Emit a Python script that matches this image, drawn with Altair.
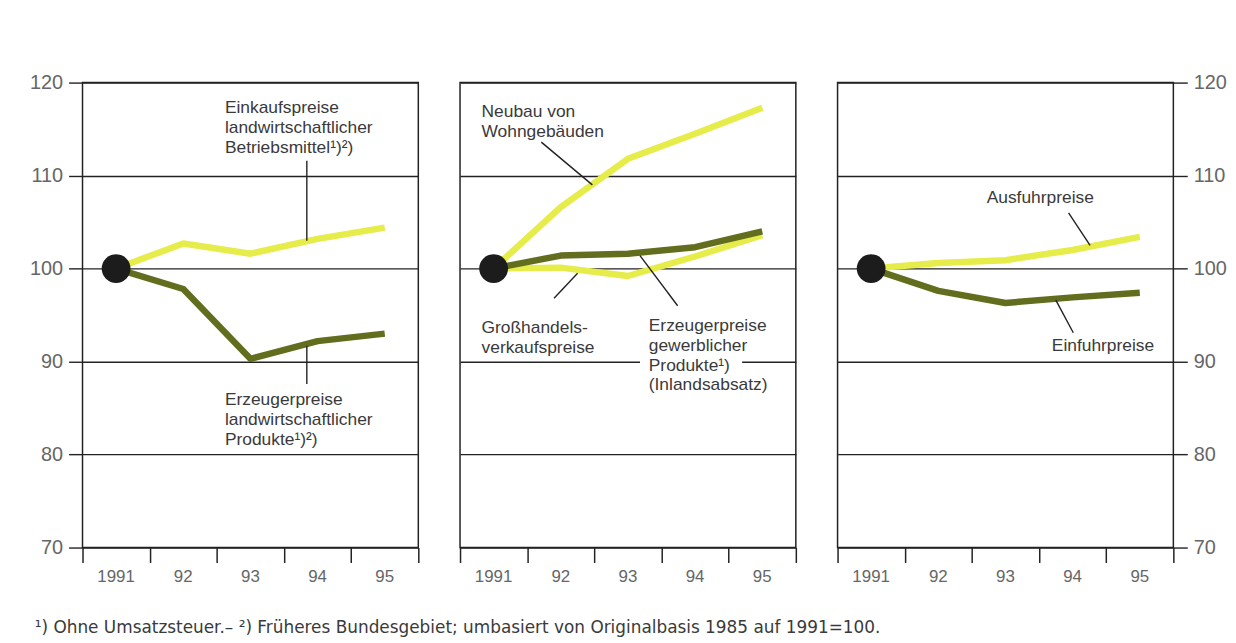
import altair as alt
import pandas as pd

# ---------------- data ----------------
years = [1991, 1992, 1993, 1994, 1995]
year_labels = ["1991", "92", "93", "94", "95"]
y_ticks = [70, 80, 90, 100, 110, 120]

# left panel
einkauf_landw = [100, 102.7, 101.6, 103.2, 104.4]
erzeuger_landw = [100, 97.8, 90.3, 92.2, 93.0]
# middle panel
neubau_wohn = [100, 106.6, 111.8, 114.5, 117.3]
erzeuger_gewerb = [100, 101.4, 101.6, 102.3, 104.0]
grosshandel = [100, 100.1, 99.2, 101.3, 103.6]
# right panel
ausfuhr = [100, 100.6, 100.9, 102.0, 103.4]
einfuhr = [100, 97.6, 96.3, 96.9, 97.4]

# annotation texts (label lines), positions in data coordinates
ann_text = [
    ["Einkaufspreise", "landwirtschaftlicher", "Betriebsmittel\u00b9)\u00b2)"],
    ["Erzeugerpreise", "landwirtschaftlicher", "Produkte\u00b9)\u00b2)"],
    ["Neubau von", "Wohngebäuden"],
    ["Großhandels-", "verkaufspreise"],
    ["Erzeugerpreise", "gewerblicher", "Produkte\u00b9)", "(Inlandsabsatz)"],
    ["Ausfuhrpreise"],
    ["Einfuhrpreise"],
]
ann_panel = [0, 0, 1, 1, 1, 2, 2]
ann_x = [1992.62, 1992.62, 1990.82, 1990.82, 1993.31, 1992.72, 1993.69]
ann_y = [118.2, 86.8, 117.8, 94.6, 94.8, 108.6, 92.6]

# leader lines
lead_panel = [0, 0, 1, 1, 1, 2, 2]
lead_x1 = [1993.84, 1993.84, 1991.71, 1991.90, 1993.18, 1993.94, 1993.75]
lead_y1 = [111.6, 91.7, 113.6, 96.8, 101.4, 106.0, 96.6]
lead_x2 = [1993.84, 1993.84, 1992.47, 1992.25, 1993.74, 1994.26, 1994.01]
lead_y2 = [103.0, 87.6, 109.0, 99.5, 96.0, 102.5, 93.1]

# white knock-out behind "Produkte¹)" on the 90 gridline
mask_panel = [1]
mask_x1 = [1993.18]
mask_x2 = [1994.70]
mask_y1 = [89.2]
mask_y2 = [90.8]

footnote = ("\u00b9) Ohne Umsatzsteuer.\u2013 \u00b2) Früheres Bundesgebiet; "
            "umbasiert von Originalbasis 1985 auf 1991=100.")

YELLOW = "#e6ec4a"
DARK = "#636d1e"
INK = "#222222"
GREY = "#666666"
TXT = "#3a3a3a"
FONT = "Liberation Sans"

panels = [
    [("Einkauf", einkauf_landw, YELLOW), ("Erzeuger", erzeuger_landw, DARK)],
    [("Neubau", neubau_wohn, YELLOW), ("Grosshandel", grosshandel, YELLOW),
     ("Gewerb", erzeuger_gewerb, DARK)],
    [("Ausfuhr", ausfuhr, YELLOW), ("Einfuhr", einfuhr, DARK)],
]

W, H = 338, 468
x_vals = [y - 0.5 for y in years] + [years[-1] + 0.5]

x_scale = alt.Scale(domain=[years[0] - 0.5, years[-1] + 0.5], nice=False, zero=False)
y_scale = alt.Scale(domain=[y_ticks[0], y_ticks[-1]], nice=False, zero=False)


def x_axis():
    return alt.Axis(values=x_vals, labels=False, tickSize=15, tickColor=INK,
                    tickWidth=1.5, domain=False, grid=False, title=None,
                    minExtent=0)


def y_axis(kind):
    common = dict(values=y_ticks, grid=True, gridColor=INK, gridWidth=1.4,
                  gridOpacity=1, domain=False, title=None, minExtent=0)
    if kind == "none":
        return alt.Axis(labels=False, ticks=False, maxExtent=0, **common)
    return alt.Axis(orient=kind, tickSize=14, tickColor=INK, tickWidth=1.4,
                    labelFontSize=20, labelColor=GREY, labelFont=FONT,
                    labelPadding=6, **common)


def panel(i, yaxis):
    rows = []
    for name, vals, col in panels[i]:
        for yr, v in zip(years, vals):
            rows.append({"series": name, "year": yr, "value": v})
    df = pd.DataFrame(rows)
    lines = []
    # draw yellow first, dark on top
    for name, vals, col in sorted(panels[i], key=lambda s: s[2] == DARK):
        lines.append(
            alt.Chart(df[df.series == name]).mark_line(
                color=col, strokeWidth=6.5, strokeJoin="round", strokeCap="butt"
            ).encode(x=alt.X("year:Q", scale=x_scale, axis=x_axis()),
                     y=alt.Y("value:Q", scale=y_scale, axis=y_axis(yaxis)))
        )
    dot = alt.Chart(pd.DataFrame({"year": [years[0]], "value": [100]})).mark_point(
        filled=True, color="#1c1c1c", opacity=1, size=841, shape="circle"
    ).encode(x=alt.X("year:Q", scale=x_scale), y=alt.Y("value:Q", scale=y_scale))

    # year labels under the x axis, centred in each year band
    lab_df = pd.DataFrame({"year": years, "lab": year_labels,
                           "base": [y_ticks[0]] * len(years)})
    year_text = alt.Chart(lab_df).mark_text(
        baseline="top", fontSize=17, font=FONT, color=GREY, dy=22
    ).encode(x=alt.X("year:Q", scale=x_scale), y=alt.Y("base:Q", scale=y_scale),
             text="lab:N")

    mask_df = pd.DataFrame({"p": mask_panel, "x": mask_x1, "x2": mask_x2,
                            "y": mask_y1, "y2": mask_y2})
    mask_df = mask_df[mask_df.p == i]
    layers = []
    if len(mask_df):
        layers.append(alt.Chart(mask_df).mark_rect(color="white").encode(
            x=alt.X("x:Q", scale=x_scale), x2="x2:Q",
            y=alt.Y("y:Q", scale=y_scale), y2="y2:Q"))

    lead_df = pd.DataFrame({"p": lead_panel, "x": lead_x1, "y": lead_y1,
                            "x2": lead_x2, "y2": lead_y2})
    lead_df = lead_df[lead_df.p == i]
    leads = alt.Chart(lead_df).mark_rule(color=INK, strokeWidth=1.4).encode(
        x=alt.X("x:Q", scale=x_scale), y=alt.Y("y:Q", scale=y_scale),
        x2="x2:Q", y2="y2:Q")

    ann_df = pd.DataFrame({"p": ann_panel, "x": ann_x, "y": ann_y,
                           "t": ann_text})
    ann_df = ann_df[ann_df.p == i]
    texts = alt.Chart(ann_df).mark_text(
        align="left", baseline="top", fontSize=17.5, font=FONT, color=TXT,
        lineHeight=20
    ).encode(x=alt.X("x:Q", scale=x_scale), y=alt.Y("y:Q", scale=y_scale),
             text="t")

    return alt.layer(*lines, dot, year_text, *layers, leads, texts).properties(
        width=W, height=H)


chart = alt.hconcat(
    panel(0, "left"), panel(1, "none"), panel(2, "right"), spacing=38
).properties(
    title=alt.TitleParams(footnote, orient="bottom", anchor="start",
                          fontSize=17, font="DejaVu Sans", color=TXT,
                          fontWeight="normal", offset=34, dx=6),
    padding={"left": 20, "top": 62, "right": 0, "bottom": 4},
    background="white",
).configure_view(
    stroke=INK, strokeWidth=1.5
)

chart.save("out.html", embed_options={"renderer": "svg", "actions": False})
